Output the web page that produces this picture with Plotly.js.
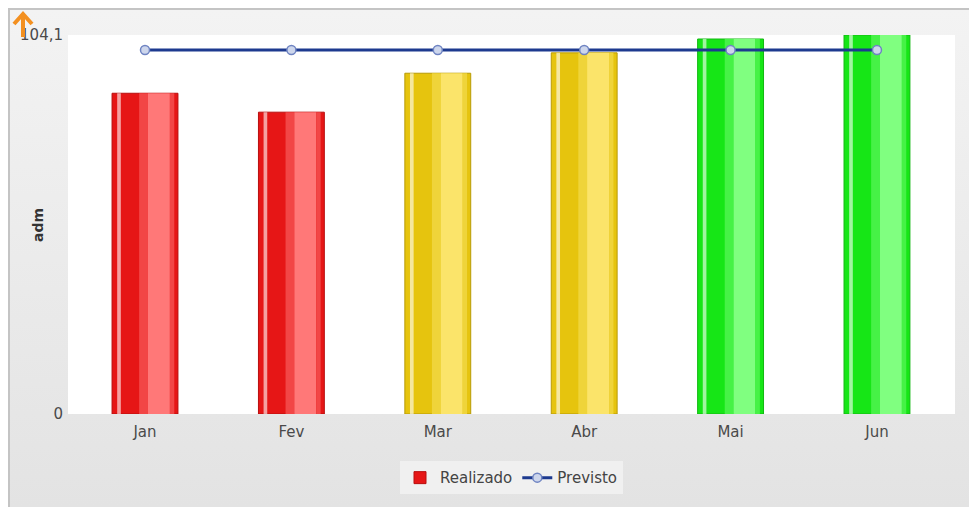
<!DOCTYPE html>
<html>
<head>
<meta charset="utf-8">
<script src="https://cdn.plot.ly/plotly-3.0.1.min.js"></script>
<style>
  html, body { margin: 0; padding: 0; background: #ffffff; }
  #panel { position: absolute; left: 8px; top: 8px; width: 961px; height: 499px;
           border-left: 2px solid #c4c4c4; border-top: 2px solid #c4c4c4;
           background: linear-gradient(#f3f3f3, #e3e3e3); box-sizing: border-box; }
  #chart { position: absolute; left: 0; top: 0; width: 969px; height: 507px; }
</style>
</head>
<body>
<div id="panel"></div>
<div id="chart"></div>
<script>
// ---- data ----
const months = ["Jan", "Fev", "Mar", "Abr", "Mai", "Jun"];
const realizado = [88.1, 82.9, 93.6, 99.2, 103.0, 104.1];
const previsto = [100, 100, 100, 100, 100, 100];
const yTickVals = [0, 104.1];
const yTickText = ["0", "104,1"];
const yAxisTitle = "adm";
const seriesNames = ["Realizado", "Previsto"];

// ---- styling helpers ----
const palette = {
  red:    { base: "#e61616", mid: "#f24646", light: "#ff7878", edge: "#b80e0e" },
  yellow: { base: "#e6c40e", mid: "#efd43a", light: "#fbe46a", edge: "#b89a06" },
  green:  { base: "#16e616", mid: "#46f246", light: "#80ff80", edge: "#12b812" }
};
function status(i) {
  const r = realizado[i] / previsto[i];
  if (r >= 1) return "green";
  if (r >= 0.9) return "yellow";
  return "red";
}
const st = months.map((m, i) => status(i));
const BW = 0.45;

function barLayer(name, colorKey, offset, width, opacity, showlegend, lineCol) {
  return {
    type: "bar", x: months, y: realizado, name: name,
    width: months.map(() => width), offset: months.map(() => offset),
    marker: {
      color: st.map(s => colorKey === "white" ? "#ffffff" : palette[s][colorKey]),
      opacity: opacity,
      line: { color: lineCol ? st.map(s => palette[s].edge) : "rgba(0,0,0,0)", width: lineCol ? 1 : 0 }
    },
    showlegend: showlegend, hoverinfo: "skip"
  };
}

const traces = [
  barLayer(seriesNames[0], "base", -BW / 2, BW, 1, true, true),
  barLayer("", "mid", -0.04, 0.06, 1, false, false),
  barLayer("", "light", 0.02, 0.15, 1, false, false),
  barLayer("", "mid", 0.17, 0.03, 1, false, false),
  barLayer("", "white", -0.19, 0.025, 0.6, false, false),
  {
    type: "scatter", mode: "lines+markers", x: months, y: previsto, name: seriesNames[1],
    line: { color: "#1d3a8f", width: 3 },
    marker: { symbol: "circle", size: 9, color: "#cdd6ec", line: { color: "#6f84c2", width: 1.5 } },
    hoverinfo: "skip"
  }
];

// pixel -> paper helpers for decorative arrow / title placement
const L = 68, R = 14, T = 35, B = 93, W = 969, H = 507;
const px = x => (x - L) / (W - L - R);
const py = y => (H - B - y) / (H - T - B);

const layout = {
  width: W, height: H,
  margin: { l: L, r: R, t: T, b: B, pad: 0 },
  paper_bgcolor: "rgba(0,0,0,0)",
  plot_bgcolor: "#ffffff",
  barmode: "overlay",
  font: { family: "DejaVu Sans, Verdana, sans-serif", size: 14, color: "#444444" },
  xaxis: {
    type: "category", range: [-0.526, 5.533], showgrid: false, zeroline: false,
    showline: false, ticks: "", ticklabelstandoff: 7, fixedrange: true,
    tickfont: { size: 15, color: "#4a4a4a" }
  },
  yaxis: {
    range: [0, 104.1], tickvals: yTickVals, ticktext: yTickText, showgrid: false,
    zeroline: false, showline: false, ticks: "", ticklabelstandoff: 4,
    tickfont: { size: 15, color: "#4a4a4a" }
  },
  showlegend: true,
  legend: {
    orientation: "h", x: 0.5, xanchor: "center", y: -0.125, yanchor: "top",
    bgcolor: "#f0f0f0", borderwidth: 0, font: { size: 15, color: "#444444" },
    itemwidth: 30, traceorder: "normal"
  },
  annotations: [
    { text: "<b>" + yAxisTitle + "</b>", xref: "paper", yref: "paper", x: px(38), y: py(225),
      xanchor: "center", yanchor: "middle", textangle: -90, showarrow: false,
      font: { size: 14, color: "#333333" } }
  ],
  shapes: [
    { type: "path", xref: "paper", yref: "paper",
      path: `M${px(14)},${py(24)} L${px(23)},${py(14)} L${px(32)},${py(24)} M${px(23)},${py(14)} L${px(23)},${py(37)}`,
      line: { color: "#f39020", width: 4 } }
  ]
};

Plotly.newPlot("chart", traces, layout, { displayModeBar: false, staticPlot: true });
</script>
</body>
</html>
